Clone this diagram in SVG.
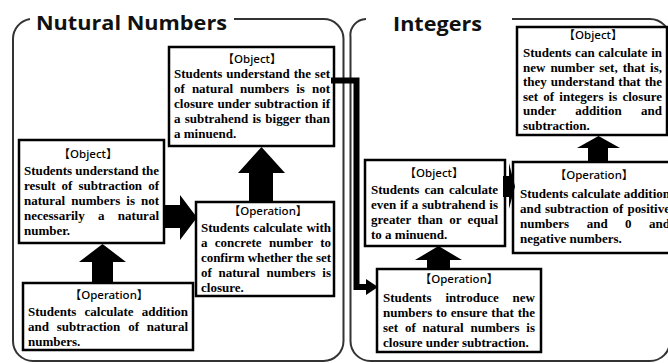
<svg xmlns="http://www.w3.org/2000/svg" width="668" height="363" viewBox="0 0 668 363">
<style>
.panel{fill:none;stroke:#333;stroke-width:2}
.title{font-family:"Open Sans","DejaVu Sans",sans-serif;font-weight:bold;font-size:20px;fill:#111}
.box{fill:#fff;stroke:#000;stroke-width:2.5}
.hd{font-family:"Noto Sans","Noto Sans CJK JP",sans-serif;font-size:11.5px;font-weight:500;text-anchor:middle;fill:#000}
.tx{font-family:"Liberation Serif","Times New Roman",serif;font-weight:bold;font-size:13px;fill:#000}
.blk{fill:#000}
.conn{fill:none;stroke:#000;stroke-width:6;stroke-linejoin:miter}
</style>
<defs>
<marker id="ah" markerUnits="userSpaceOnUse" markerWidth="12" markerHeight="16" refX="0" refY="8" orient="auto">
<path d="M0,0 L12,8 L0,16 z" fill="#000"/>
</marker>
</defs>

<g id="panel-natural">
<path class="panel" d="M30,19 A20,20 0 0 0 13,39 L13,341 A20,20 0 0 0 33,361 L323,361 A20,20 0 0 0 343.5,341 L343.5,39 A20,20 0 0 0 323,19 L234,19"/>
<text class="title" x="36" y="30" textLength="191" lengthAdjust="spacingAndGlyphs">Nutural Numbers</text>
</g>
<g id="panel-integers">
<path class="panel" d="M366,19 A16,16 0 0 0 350.5,37 L350.5,341 A20,20 0 0 0 370.5,361 L650,361 A20,20 0 0 0 670,341 L670,39 A20,20 0 0 0 650,19 L512,19"/>
<text class="title" x="393" y="31" textLength="89" lengthAdjust="spacingAndGlyphs">Integers</text>
</g>

<g id="node-a">
<rect class="box" x="169" y="47" width="165" height="99"/>
<text class="hd" x="252" y="63">【Object】</text>
<text class="tx" x="174" y="78" textLength="156" word-spacing="0.6">Students understand the set</text>
<text class="tx" x="174" y="93" textLength="156" word-spacing="3.8">of natural numbers is not</text>
<text class="tx" x="174" y="108" textLength="156" word-spacing="0.6">closure under subtraction if</text>
<text class="tx" x="174" y="123" textLength="156" word-spacing="0.9">a subtrahend is bigger than</text>
<text class="tx" x="174" y="138">a minuend.</text>
</g>

<g id="node-b">
<rect class="box" x="19" y="140" width="145" height="103"/>
<text class="hd" x="88" y="158">【Object】</text>
<text class="tx" x="24" y="174.5" textLength="135">Students understand the</text>
<text class="tx" x="24" y="189.6" textLength="135" word-spacing="2.8">result of subtraction of</text>
<text class="tx" x="24" y="204.7" textLength="135" word-spacing="2.7">natural numbers is not</text>
<text class="tx" x="24" y="219.8" textLength="135" word-spacing="10.1">necessarily a natural</text>
<text class="tx" x="24" y="234.9">number.</text>
</g>

<g id="node-c">
<rect class="box" x="23" y="283" width="170" height="67"/>
<text class="hd" x="109" y="299">【Operation】</text>
<text class="tx" x="28" y="315.5" textLength="160" word-spacing="4.9">Students calculate addition</text>
<text class="tx" x="28" y="330.5" textLength="160" word-spacing="4.6">and subtraction of natural</text>
<text class="tx" x="28" y="345.5">numbers.</text>
</g>

<g id="node-d">
<rect class="box" x="196" y="202" width="138" height="94"/>
<text class="hd" x="268" y="215">【Operation】</text>
<text class="tx" x="201" y="231.5" textLength="130" word-spacing="0.7">Students calculate with</text>
<text class="tx" x="201" y="246.5" textLength="130" word-spacing="4">a concrete number to</text>
<text class="tx" x="201" y="261.5" textLength="130">confirm whether the set</text>
<text class="tx" x="201" y="276.5" textLength="130" word-spacing="3.5">of natural numbers is</text>
<text class="tx" x="201" y="291.5">closure.</text>
</g>

<g id="node-e">
<rect class="box" x="365" y="160" width="140" height="86"/>
<text class="hd" x="434" y="177">【Object】</text>
<text class="tx" x="371" y="193.5" textLength="127" word-spacing="1.75">Students can calculate</text>
<text class="tx" x="371" y="208.5" textLength="127" word-spacing="0.5">even if a subtrahend is</text>
<text class="tx" x="371" y="223.5" textLength="127" word-spacing="3">greater than or equal</text>
<text class="tx" x="371" y="238.5">to a minuend.</text>
</g>

<g id="node-f">
<rect class="box" x="377" y="269" width="164" height="83"/>
<text class="hd" x="459" y="283">【Operation】</text>
<text class="tx" x="383" y="301.5" textLength="152" word-spacing="10.6">Students introduce new</text>
<text class="tx" x="383" y="316.5" textLength="152" word-spacing="0.6">numbers to ensure that the</text>
<text class="tx" x="383" y="331.5" textLength="152" word-spacing="3.5">set of natural numbers is</text>
<text class="tx" x="383" y="346.5">closure under subtraction.</text>
</g>

<g id="node-g">
<rect class="box" x="513" y="162" width="162" height="91"/>
<text class="hd" x="594" y="179">【Operation】</text>
<text class="tx" x="520" y="197.5" textLength="150">Students calculate addition</text>
<text class="tx" x="520" y="212.5" textLength="150" word-spacing="0.8">and subtraction of positive</text>
<text class="tx" x="520" y="227.5" textLength="150" word-spacing="14.2">numbers and 0 and</text>
<text class="tx" x="520" y="242.5">negative numbers.</text>
</g>

<g id="node-h">
<rect class="box" x="517" y="27" width="150" height="108"/>
<text class="hd" x="593" y="39">【Object】</text>
<text class="tx" x="523" y="57" textLength="139" word-spacing="0.5">Students can calculate in</text>
<text class="tx" x="523" y="71.5" textLength="139" word-spacing="1.7">new number set, that is,</text>
<text class="tx" x="523" y="86" textLength="139" word-spacing="0.7">they understand that the</text>
<text class="tx" x="523" y="100.5" textLength="139" word-spacing="1.9">set of integers is closure</text>
<text class="tx" x="523" y="115" textLength="139" word-spacing="16">under addition and</text>
<text class="tx" x="523" y="129.5">subtraction.</text>
</g>

<g id="connectors">
<polygon class="blk" points="92,283 92,262 79,262 102.5,244 126,262 113,262 113,283"/>
<polygon class="blk" points="164,205 180,205 180,195 197,217.5 180,240 180,228 164,228"/>
<polygon class="blk" points="249,202 249,173 238,173 261.5,147 285,173 273,173 273,202"/>
<polygon class="blk" points="427,269 427,260 415,260 438.5,246 462,260 450,260 450,269"/>
<polygon class="blk" points="588,162 588,148 577,148 598.5,136 620,148 608,148 608,162"/>
<polygon class="blk" points="503,176 509,176 509,163 515,186.5 509,209 509,197 503,197"/>
<path class="conn" d="M331,80.5 H356.5 V287 H366" marker-end="url(#ah)"/>
</g>
</svg>
